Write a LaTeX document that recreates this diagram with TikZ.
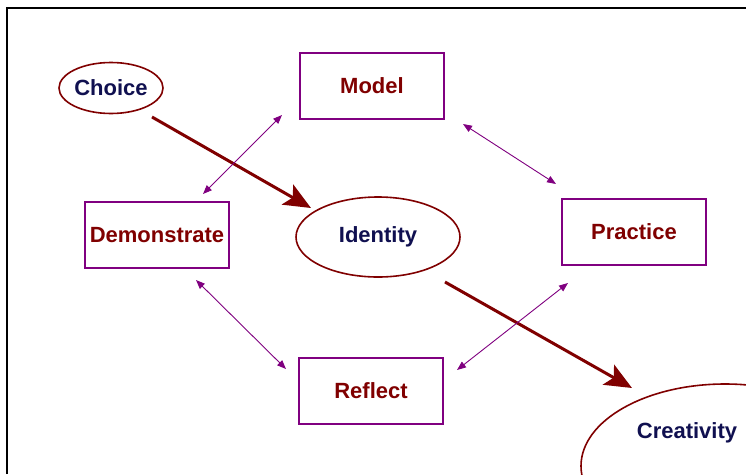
\documentclass[tikz,border=0pt]{standalone}
\usepackage{fontspec}
\setmainfont{Liberation Sans}
\usetikzlibrary{arrows.meta,shapes.geometric}
\definecolor{dred}{RGB}{128,0,0}
\definecolor{purp}{RGB}{128,0,128}
\definecolor{navy}{RGB}{16,16,80}
\begin{document}
\begin{tikzpicture}[x=1pt,y=-1pt,
  lab/.style={font=\fontsize{22}{25}\selectfont\bfseries},
  boxnode/.style={draw=purp,line width=2pt,minimum width=144pt,minimum height=66pt,inner sep=0pt,lab,text=dred},
  ellnode/.style={ellipse,draw=dred,line width=1.6pt,inner sep=0pt,lab,text=navy},
  bigarrow/.style={draw=dred,line width=3pt,-{Stealth[length=27pt,width=23pt,inset=6pt]}},
  thinarrow/.style={draw=purp,line width=0.9pt,{Triangle[length=9pt,width=7pt]}-{Triangle[length=9pt,width=7pt]}}
]
\useasboundingbox (0,0) rectangle (746,474);
\fill[white] (0,0) rectangle (746,474);
\draw[line width=2.5pt] (7,474) -- (7,8) -- (746,8);

\node[ellnode,minimum width=104pt,minimum height=51pt] (choice) at (111,88) {Choice};
\node[boxnode] (model) at (372,86) {Model};
\node[boxnode] (demo) at (157,235) {Demonstrate};
\node[ellnode,minimum width=164pt,minimum height=80pt] (identity) at (378,237) {Identity};
\node[boxnode] (practice) at (634,232) {Practice};
\node[boxnode] (reflect) at (371,391) {Reflect};
\node[ellipse,draw=dred,line width=1.6pt,minimum width=288pt,minimum height=164pt] (creshape) at (725,466) {};
\node[lab,text=navy] (creativity) at (687,433) {Creativity};

\coordinate (a1s) at (152,117);
\coordinate (a1e) at (311,208);
\coordinate (a2s) at (445,282);
\coordinate (a2e) at (632,388);
\draw[bigarrow] (a1s) -- (a1e);
\draw[bigarrow] (a2s) -- (a2e);

\coordinate (dm1) at (203,194);
\coordinate (dm2) at (282,115);
\coordinate (mp1) at (463,124);
\coordinate (mp2) at (556,184);
\coordinate (dr1) at (196,280);
\coordinate (dr2) at (286,369);
\coordinate (rp1) at (457,370);
\coordinate (rp2) at (568,283);
\draw[thinarrow] (dm1) -- (dm2);
\draw[thinarrow] (mp1) -- (mp2);
\draw[thinarrow] (dr1) -- (dr2);
\draw[thinarrow] (rp1) -- (rp2);
\end{tikzpicture}
\end{document}
